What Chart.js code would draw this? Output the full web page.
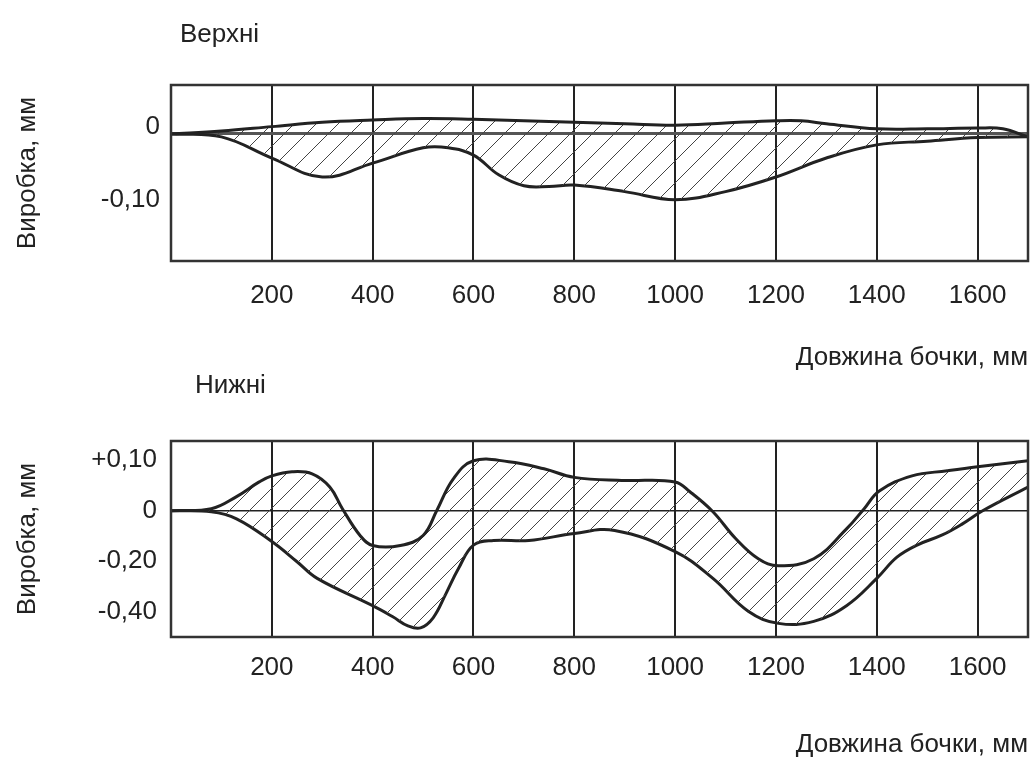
<!DOCTYPE html>
<html>
<head>
<meta charset="utf-8">
<title>Виробка</title>
<script src="https://cdn.jsdelivr.net/npm/chart.js@4"></script>
<style>
    body { margin: 0; background: #fff; width: 1034px; height: 758px; overflow: hidden; position: relative;
           font-family: "Liberation Sans", Arial, sans-serif; color: #222; }
    canvas { position: absolute; left: 0; }
    .label { position: absolute; font-size: 26px; line-height: 26px; }
</style>
</head>
<body>
<canvas id="topChart" width="1034" height="380" style="top:0"></canvas>
<canvas id="bottomChart" width="1034" height="378" style="top:380px"></canvas>
<div class="label" style="left:180px;top:20px">Верхні</div>
<div class="label" style="left:195px;top:371px">Нижні</div>
<script>
// Barrel length positions (mm) and wear values
var topUpperX = [0, 100, 200, 300, 400, 500, 600, 700, 800, 900, 1000, 1100, 1200, 1250, 1300, 1400, 1500, 1600, 1650, 1700];
var topUpperY = [0, 0.004, 0.010, 0.016, 0.019, 0.021, 0.020, 0.018, 0.016, 0.014, 0.012, 0.015, 0.018, 0.018, 0.014, 0.007, 0.007, 0.008, 0.007, -0.004];

var topLowerX = [0, 100, 200, 300, 400, 500, 550, 600, 650, 700, 750, 800, 900, 1000, 1100, 1200, 1300, 1400, 1500, 1600, 1700];
var topLowerY = [0, -0.004, -0.033, -0.059, -0.040, -0.019, -0.019, -0.029, -0.056, -0.071, -0.072, -0.070, -0.079, -0.090, -0.079, -0.059, -0.033, -0.015, -0.010, -0.005, -0.004];

var bottomUpperX = [0, 80, 130, 175, 200, 240, 280, 315, 340, 375, 400, 455, 500, 527, 560, 600, 670, 740, 800, 900, 1000, 1030, 1075, 1120, 1165, 1205, 1275, 1340, 1375, 1405, 1470, 1540, 1600, 1700];
var bottomUpperY = [0, 0.004, 0.028, 0.057, 0.069, 0.077, 0.073, 0.047, 0.004, -0.049, -0.069, -0.069, -0.049, 0, 0.063, 0.099, 0.097, 0.083, 0.066, 0.060, 0.057, 0.037, -0.002, -0.055, -0.095, -0.109, -0.095, -0.036, 0.004, 0.039, 0.069, 0.079, 0.087, 0.099];

var bottomLowerX = [0, 80, 130, 200, 250, 290, 400, 440, 470, 495, 520, 545, 570, 600, 640, 710, 800, 880, 1000, 1075, 1145, 1205, 1275, 1340, 1400, 1440, 1480, 1530, 1570, 1610, 1700];
var bottomLowerY = [0, -0.002, -0.016, -0.061, -0.101, -0.134, -0.188, -0.210, -0.228, -0.232, -0.212, -0.165, -0.115, -0.068, -0.059, -0.059, -0.045, -0.039, -0.081, -0.134, -0.199, -0.223, -0.219, -0.188, -0.134, -0.092, -0.068, -0.048, -0.026, 0.000, 0.047];

// Axis ticks
var topTickValues = [0, -0.1];
var topTickLabels = ['0', '-0,10'];
var bottomTickValues = [0.1, 0, -0.1, -0.2];
var bottomTickLabels = ['+0,10', '0', '-0,20', '-0,40'];

var xTitle = 'Довжина бочки, мм';
var yTitle = 'Виробка, мм';

Chart.defaults.font.family = '"Liberation Sans", Arial, sans-serif';
Chart.defaults.font.size = 26;
Chart.defaults.color = '#222';

function toPoints(xs, ys) {
    return xs.map(function (x, i) { return { x: x, y: ys[i] }; });
}

// Diagonal hatching used to fill the area between the two curves
function hatchPattern(size) {
    var c = document.createElement('canvas');
    c.width = size;
    c.height = size;
    var g = c.getContext('2d');
    g.strokeStyle = '#444';
    g.lineWidth = 1;
    g.beginPath();
    g.moveTo(0, size); g.lineTo(size, 0);
    g.moveTo(-1, 1); g.lineTo(1, -1);
    g.moveTo(size - 1, size + 1); g.lineTo(size + 1, size - 1);
    g.stroke();
    return g.createPattern(c, 'repeat');
}

// Draws the frame round the plot area
var frameBox = {
    id: 'frameBox',
    afterDatasetsDraw: function (chart) {
        var a = chart.chartArea;
        var ctx = chart.ctx;
        ctx.save();
        ctx.strokeStyle = '#333';
        ctx.lineWidth = 2.5;
        ctx.strokeRect(a.left, a.top, a.right - a.left, a.bottom - a.top);
        ctx.restore();
    }
};

function curve(points, fill, pattern) {
    return {
        data: points,
        borderColor: '#222',
        borderWidth: 3,
        pointRadius: 0,
        tension: 0.4,
        fill: fill,
        backgroundColor: pattern
    };
}

function makeChart(id, s) {
    return new Chart(document.getElementById(id), {
        type: 'line',
        data: {
            datasets: [
                curve(toPoints(s.upperX, s.upperY), '+1', hatchPattern(s.hatch)),
                curve(toPoints(s.lowerX, s.lowerY), false, 'transparent')
            ]
        },
        options: {
            responsive: false,
            animation: false,
            layout: { padding: { top: s.padTop, right: 6, left: 0, bottom: 0 } },
            plugins: { legend: { display: false }, tooltip: { enabled: false } },
            scales: {
                x: {
                    type: 'linear',
                    min: 0,
                    max: 1700,
                    afterFit: function (scale) { scale.height = s.xHeight; },
                    ticks: {
                        stepSize: 200,
                        includeBounds: false,
                        autoSkip: false,
                        maxRotation: 0,
                        padding: s.xTickPad,
                        callback: function (v) { return v === 0 ? '' : v; }
                    },
                    grid: { color: '#222', lineWidth: 2, drawTicks: false },
                    border: { display: false },
                    title: {
                        display: true,
                        text: xTitle,
                        align: 'end',
                        font: { size: 26, lineHeight: 1 },
                        padding: { top: 0, bottom: s.xTitlePad }
                    }
                },
                y: {
                    min: s.yMin,
                    max: s.yMax,
                    afterFit: function (scale) { scale.width = 171; },
                    afterBuildTicks: function (scale) {
                        scale.ticks = s.tickValues.map(function (v) { return { value: v }; });
                    },
                    ticks: {
                        padding: s.yTickPad,
                        labelOffset: s.labelOffset,
                        callback: function (v) { return s.tickLabels[s.tickValues.indexOf(v)]; }
                    },
                    grid: {
                        drawTicks: false,
                        color: function (ctx) { return ctx.tick && ctx.tick.value === 0 ? s.zeroColor : 'transparent'; },
                        lineWidth: function (ctx) { return ctx.tick && ctx.tick.value === 0 ? s.zeroWidth : 0; }
                    },
                    border: { display: false },
                    title: {
                        display: true,
                        text: yTitle,
                        font: { size: 26, lineHeight: 1 },
                        padding: { top: 15, bottom: 0 }
                    }
                }
            }
        },
        plugins: [frameBox]
    });
}

makeChart('topChart', {
    upperX: topUpperX, upperY: topUpperY, lowerX: topLowerX, lowerY: topLowerY,
    yMin: -0.174, yMax: 0.067,
    tickValues: topTickValues, tickLabels: topTickLabels,
    padTop: 85, xHeight: 119, xTickPad: 19, xTitlePad: 9, yTickPad: 11, labelOffset: -7,
    zeroColor: '#555', zeroWidth: 3, hatch: 22
});

makeChart('bottomChart', {
    upperX: bottomUpperX, upperY: bottomUpperY, lowerX: bottomLowerX, lowerY: bottomLowerY,
    yMin: -0.25, yMax: 0.138,
    tickValues: bottomTickValues, tickLabels: bottomTickLabels,
    padTop: 61, xHeight: 121, xTickPad: 15, xTitlePad: 0, yTickPad: 14, labelOffset: 0,
    zeroColor: '#222', zeroWidth: 1.5, hatch: 20
});
</script>
</body>
</html>
